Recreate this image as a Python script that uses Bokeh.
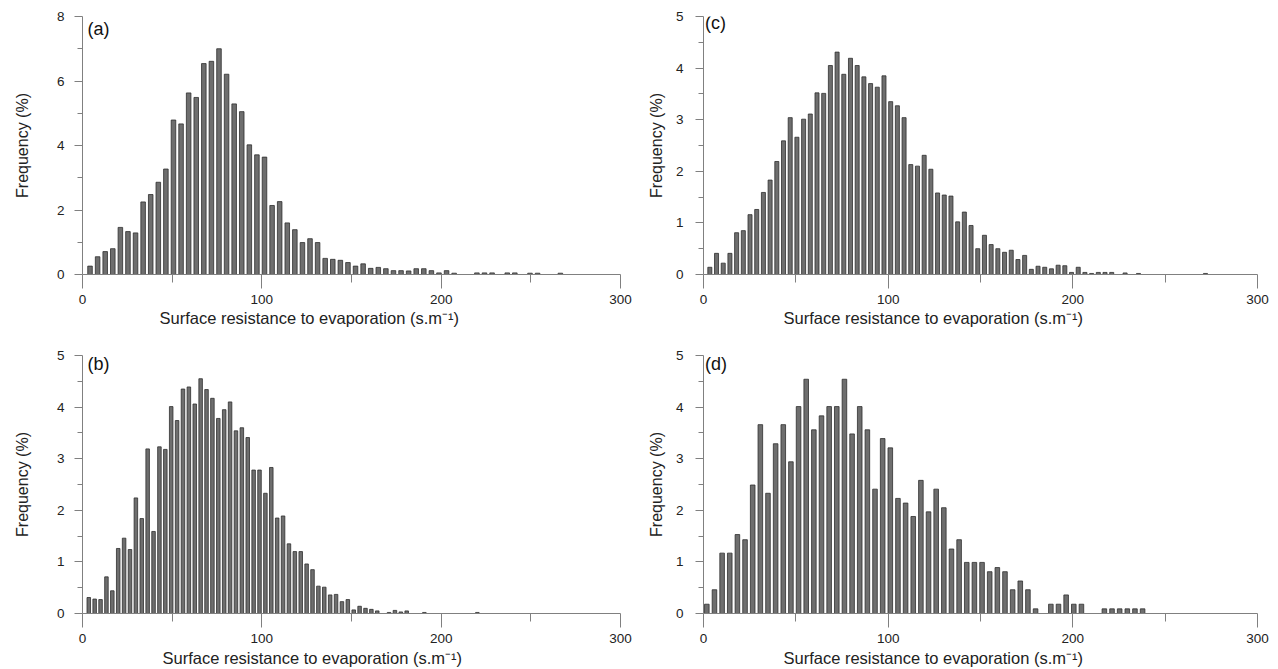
from bokeh.plotting import figure
from bokeh.models import Range1d, FixedTicker, Label, Title
from bokeh.layouts import row, column
from bokeh.embed import file_html
from bokeh.resources import INLINE

# ---------------- data (frequency in %, per histogram bin) ----------------
# (a)
a_start, a_width = 4.2, 4.23
a_vals = [0.26, 0.55, 0.71, 0.80, 1.46, 1.33, 1.29, 2.25, 2.48, 2.86, 3.27, 4.79, 4.67,
          5.63, 5.49, 6.54, 6.61, 7.00, 6.21, 5.29, 5.05, 4.02, 3.71, 3.64, 2.14, 2.26,
          1.60, 1.39, 0.99, 1.11, 0.99,
          0.50, 0.47, 0.44, 0.37, 0.26, 0.33, 0.19, 0.22, 0.18, 0.12, 0.12, 0.11, 0.18,
          0.18, 0.12, 0.05, 0.12, 0.04,
          0, 0, 0.05, 0.05, 0.05, 0, 0.05, 0.05, 0, 0.04, 0.04, 0, 0, 0.04]
# (b)
b_start, b_width = 3.5, 3.283
b_vals = [0.31, 0.28, 0.27, 0.71, 0.44, 1.26, 1.46, 1.24, 2.24, 1.84, 3.19, 1.59, 3.23,
          3.18, 4.01, 3.74, 4.35, 4.39, 4.06, 4.55, 4.34, 4.17, 3.78, 3.95, 4.10, 3.54,
          3.60, 3.41, 2.78, 2.78, 2.33, 2.83, 1.85, 1.89, 1.35, 1.20, 1.20, 0.96, 0.85, 0.53,
          0.51, 0.36, 0.37, 0.23, 0.27, 0.07, 0.14, 0.10, 0.08, 0.05, 0, 0.02, 0.06, 0.03,
          0.05, 0, 0, 0.02, 0, 0, 0, 0, 0, 0, 0, 0, 0.02]
# (c)
c_start, c_width = 3.43, 3.627
c_vals = [0.14, 0.41, 0.22, 0.41, 0.81, 0.85, 1.16, 1.26, 1.59, 1.83, 2.19, 2.59, 3.04,
          2.66, 3.01, 3.11, 3.52, 3.51, 4.05, 4.31, 3.88, 4.19, 4.05, 3.83, 3.70, 3.63,
          3.85, 3.35, 3.27, 3.04, 2.13, 2.10, 2.31, 2.04, 1.58, 1.54, 1.52, 1.02,
          1.21, 0.95, 0.50, 0.76, 0.58, 0.50, 0.43, 0.47, 0.29, 0.37, 0.10, 0.16, 0.14,
          0.11, 0.18, 0.17, 0.04, 0.14, 0.04, 0.02, 0.04, 0.04, 0.04, 0, 0.03, 0, 0.02,
          0, 0, 0, 0, 0, 0, 0, 0, 0, 0.02]
# (d)
d_start, d_width = 1.8, 4.14
d_vals = [0.18, 0.46, 1.17, 1.17, 1.53, 1.43, 2.49, 3.66, 2.33, 3.29, 3.66, 2.94, 4.01,
          4.54, 3.56, 3.83, 4.01, 4.01, 4.54, 3.48, 4.01, 3.56, 2.41, 3.39, 3.21, 2.23,
          2.14, 1.88, 2.58, 1.97, 2.41, 2.05, 1.25, 1.43,
          0.99, 0.99, 0.99, 0.81, 0.89, 0.81, 0.46, 0.63, 0.46, 0.09, 0, 0.18, 0.18, 0.36,
          0.18, 0.18, 0, 0, 0.09, 0.09, 0.09, 0.09, 0.09, 0.09]

x_ticks = [0, 100, 200, 300]
x_minor = [50, 150, 250]
x_label = "Surface resistance to evaporation (s.m\u207b\u00b9)"
y_label = "Frequency (%)"

FONT = "Liberation Sans"
AX = "#808080"
TXT = "#222222"


def panel(letter, vals, start, bw, ymax, yticks, yminor, width, height,
          bl, br, bt, bb, ylab_standoff, ytick_standoff, letter_dx, letter_dy,
          xlab_offset, xlab_standoff):
    p = figure(width=width, height=height, output_backend="svg", toolbar_location=None,
               x_range=Range1d(0, 300), y_range=Range1d(0, ymax),
               min_border_left=bl, min_border_right=br, min_border_top=bt,
               min_border_bottom=bb)
    p.outline_line_color = None
    p.xgrid.visible = False
    p.ygrid.visible = False
    p.background_fill_color = "white"
    p.border_fill_color = "white"

    xs = [start + i * bw for i in range(len(vals))]
    xs_nz = [x for x, v in zip(xs, vals) if v > 0]
    v_nz = [v for v in vals if v > 0]
    p.vbar(x=xs_nz, top=v_nz, bottom=0, width=bw * 0.6,
           fill_color="#6e6e6e", line_color="#2e2e2e", line_width=0.8)

    p.xaxis.ticker = FixedTicker(ticks=x_ticks, minor_ticks=x_minor)
    p.yaxis.ticker = FixedTicker(ticks=yticks, minor_ticks=yminor)
    for ax in (p.xaxis[0], p.yaxis[0]):
        ax.axis_line_color = AX
        ax.major_tick_line_color = AX
        ax.minor_tick_line_color = AX
        ax.major_tick_in = 0
        ax.minor_tick_in = 0
        ax.major_label_text_font = FONT
        ax.major_label_text_font_size = "13.5px"
        ax.major_label_text_color = TXT
    p.xaxis.major_tick_out = 14
    p.xaxis.minor_tick_out = 8
    p.xaxis.major_label_standoff = 6
    p.yaxis.major_tick_out = 8
    p.yaxis.minor_tick_out = 5
    p.yaxis.major_label_standoff = ytick_standoff
    p.yaxis.axis_label = y_label
    p.yaxis.axis_label_text_font = FONT
    p.yaxis.axis_label_text_font_size = "16px"
    p.yaxis.axis_label_text_font_style = "normal"
    p.yaxis.axis_label_text_color = TXT
    p.yaxis.axis_label_standoff = ylab_standoff

    p.add_layout(Title(text=x_label, align="left", offset=xlab_offset,
                       standoff=xlab_standoff, text_font=FONT, text_font_size="16.5px",
                       text_font_style="normal", text_color=TXT), "below")
    p.add_layout(Label(x=0, y=ymax, x_units="data", y_units="data",
                       x_offset=letter_dx, y_offset=-letter_dy,
                       text=letter, text_align="left", text_baseline="middle",
                       text_font=FONT, text_font_size="18px", text_color="#111111"))
    return p


y8 = [0, 2, 4, 6, 8]
y8m = [1, 3, 5, 7]
y5 = [0, 1, 2, 3, 4, 5]
y5m = [0.5, 1.5, 2.5, 3.5, 4.5]

pa = panel("(a)", a_vals, a_start, a_width, 8, y8, y8m, 640, 330,
           82, 20, 16, 56, 23, 10, 5, 12.5, 77, 1)
pb = panel("(b)", b_vals, b_start, b_width, 5, y5, y5m, 640, 339,
           82, 20, 25, 56, 23, 10, 5, 8.5, 80, 3)
pc = panel("(c)", c_vals, c_start, c_width, 5, y5, y5m, 630, 330,
           63, 13, 7, 55, 8, 12, 1.5, 6.5, 80, 1)
pd = panel("(d)", d_vals, d_start, d_width, 5, y5, y5m, 630, 339,
           63, 13, 16, 56, 8, 12, 1.5, 8.5, 80, 3)

layout = column(row(pa, pc), row(pb, pd))
open("out.html", "w").write(file_html(layout, INLINE))
